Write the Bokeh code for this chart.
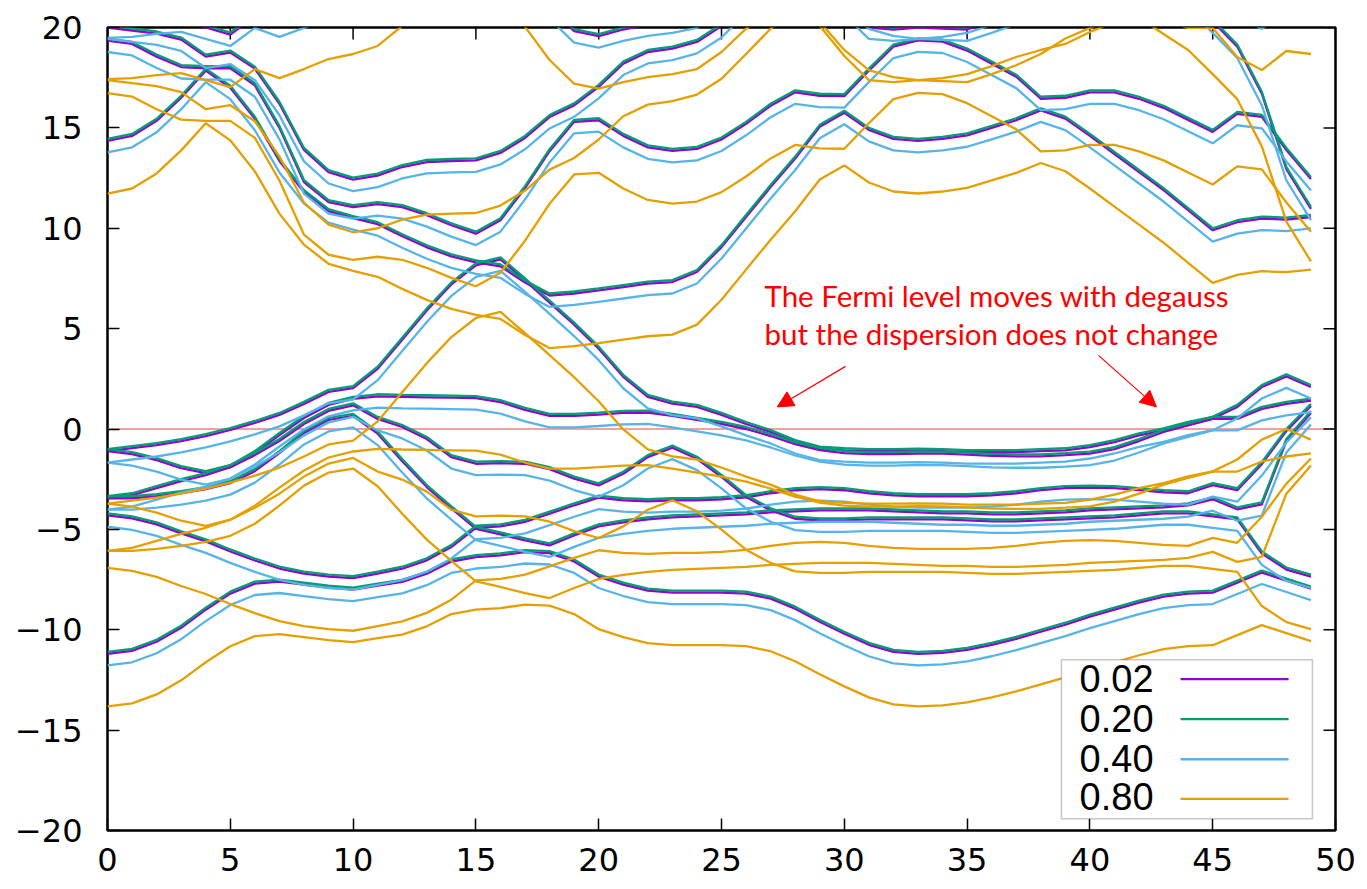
from bokeh.plotting import figure
from bokeh.models import (Range1d, FixedTicker, Label, Arrow,
                          NormalHead, BoxAnnotation, Span)
from bokeh.embed import file_html
from bokeh.resources import INLINE

# ---------------- data (energies in eV, degauss = 0.02 set) ----------------
k_index = list(range(50))

band_L1 = [-11.2, -11.05, -10.6, -9.9, -9.0, -8.2, -7.7, -7.6, -7.75, -7.9,
           -8.0, -7.8, -7.62, -7.21, -6.6, -6.38, -6.3, -6.13, -6.18, -6.6,
           -7.35, -7.75, -8.05, -8.15, -8.15, -8.15, -8.2, -8.45, -8.95, -9.6,
           -10.2, -10.75, -11.1, -11.2, -11.15, -11.0, -10.75, -10.45, -10.1, -9.75,
           -9.35, -9.0, -8.65, -8.35, -8.2, -8.15, -7.65, -7.15, -7.55, -7.95]
band_L2 = [-4.3, -4.45, -4.75, -5.2, -5.6, -6.1, -6.55, -6.95, -7.2, -7.35,
           -7.43, -7.2, -6.96, -6.54, -5.88, -4.92, -4.85, -4.63, -4.22, -3.8,
           -3.42, -3.55, -3.6, -3.55, -3.55, -3.5, -3.4, -3.2, -3.05, -3.0,
           -3.05, -3.2, -3.3, -3.35, -3.35, -3.35, -3.3, -3.2, -3.05, -2.95,
           -2.92, -2.95, -3.05, -3.15, -3.2, -2.8, -3.05, -1.75, -0.1, 1.15]
band_A = [-1.1, -1.25, -1.55, -1.95, -2.2, -1.9, -1.3, -0.6, 0.25, 0.9,
          1.18, 0.5, 0.1, -0.5, -1.4, -1.73, -1.7, -1.73, -2.0, -2.47,
          -2.81, -2.23, -1.4, -0.93, -1.48, -2.39, -3.39, -4.05, -4.47, -4.55,
          -4.55, -4.5, -4.5, -4.5, -4.5, -4.55, -4.6, -4.6, -4.55, -4.5,
          -4.45, -4.4, -4.3, -4.2, -4.2, -4.35, -4.5, -6.2, -7.0, -7.35]
band_C = [-3.45, -3.45, -3.35, -3.2, -3.0, -2.7, -2.1, -1.2, -0.2, 0.45,
          0.65, -0.23, -1.6, -2.89, -3.95, -4.97, -5.25, -5.55, -5.8, -5.3,
          -4.85, -4.65, -4.5, -4.4, -4.35, -4.3, -4.25, -4.15, -4.1, -4.05,
          -4.05, -4.05, -4.1, -4.15, -4.2, -4.2, -4.25, -4.25, -4.2, -4.15,
          -4.05, -4.0, -3.95, -3.9, -3.8, -3.5, -4.0, -3.75, -0.6, 0.8]
band_F = [-3.45, -3.3, -2.95, -2.6, -2.3, -1.9, -1.2, -0.3, 0.55, 1.2,
          1.5, 1.63, 1.6, 1.58, 1.56, 1.54, 1.34, 0.95, 0.65, 0.65,
          0.72, 0.8, 0.82, 0.65, 0.45, 0.25, 0.0, -0.35, -0.75, -1.05,
          -1.2, -1.25, -1.25, -1.22, -1.23, -1.28, -1.34, -1.36, -1.36, -1.3,
          -1.23, -1.0, -0.6, -0.15, 0.18, 0.5, 0.5, 1.0, 1.25, 1.41]
band_U = [-1.1, -0.95, -0.8, -0.6, -0.35, -0.05, 0.3, 0.7, 1.25, 1.85,
          2.04, 3.0, 4.45, 5.9, 7.2, 8.15, 8.45, 7.4, 6.3, 5.2,
          4.0, 2.6, 1.6, 1.26, 1.1, 0.7, 0.25, -0.15, -0.65, -0.98,
          -1.06, -1.1, -1.1, -1.08, -1.1, -1.15, -1.15, -1.15, -1.1, -1.06,
          -0.9, -0.65, -0.32, -0.07, 0.26, 0.51, 1.1, 2.09, 2.62, 2.09]
band_R = [14.35, 14.6, 15.35, 16.5, 17.85, 17.0, 15.45, 13.35, 11.8, 10.85,
          10.5, 10.2, 9.6, 9.05, 8.6, 8.3, 8.1, 7.3, 6.65, 6.75,
          6.9, 7.07, 7.24, 7.32, 7.82, 9.06, 10.56, 12.05, 13.47, 15.05,
          15.75, 14.9, 14.45, 14.35, 14.45, 14.63, 15.0, 15.38, 15.87, 15.46,
          14.6, 13.7, 12.8, 11.9, 10.9, 9.9, 10.3, 10.48, 10.43, 10.56]
band_Q = [19.35, 19.18, 18.55, 18.03, 17.97, 17.97, 17.12, 15.0, 12.3, 11.3,
          11.05, 11.2, 11.05, 10.65, 10.15, 9.73, 10.4, 12.0, 13.84, 15.3,
          15.38, 14.6, 14.03, 13.85, 13.95, 14.42, 15.2, 16.1, 16.77, 16.6,
          16.58, 17.85, 19.05, 19.36, 19.3, 18.85, 18.2, 17.55, 16.45, 16.5,
          16.77, 16.77, 16.45, 16.0, 15.4, 14.8, 15.7, 15.55, 13.9, 12.45]
band_P = [20.0, 19.85, 19.7, 19.4, 18.55, 18.75, 17.95, 16.2, 13.9, 12.8,
          12.42, 12.62, 13.05, 13.3, 13.35, 13.38, 13.75, 14.5, 15.54, 16.12,
          17.04, 18.2, 18.78, 18.95, 19.28, 20.07, 21.3, 22.56, 23.5, 22.9,
          21.5, 20.5, 20.15, 20.0, 20.1, 20.3, 20.7, 21.15, 21.5, 21.8,
          22.4, 22.9, 23.1, 22.3, 21.5, 20.3, 19.05, 16.7, 12.95, 10.97]
band_T = [20.05, 20.1, 20.25, 20.35, 20.0, 19.65, 20.55, 20.1, 20.55, 21.05,
          21.3, 21.7, 22.7, 23.4, 23.8, 24.0, 23.6, 22.65, 21.0, 19.82,
          19.57, 19.9, 20.15, 20.3, 20.55, 21.4, 22.56, 23.4, 23.6, 22.7,
          21.2, 20.0, 19.9, 20.0, 19.95, 19.9, 20.3, 20.74, 21.3, 22.07,
          22.6, 23.0, 23.3, 23.0, 22.6, 22.6, 21.15, 20.5, 21.45, 21.3]

bands = [band_L1, band_L2, band_A, band_C, band_F, band_U,
         band_R, band_Q, band_P, band_T]

# degauss values and the rigid shift of the bands (Fermi level moves)
degauss_labels = ["0.02", "0.20", "0.40", "0.80"]
fermi_shift = [0.0, 0.10, -0.57, -2.62]
series_colors = ["#9400D3", "#009E73", "#56B4E9", "#E69F00"]

x_ticks = [0, 5, 10, 15, 20, 25, 30, 35, 40, 45, 50]
y_ticks = [-20, -15, -10, -5, 0, 5, 10, 15, 20]
y_tick_labels = {v: (str(v) if v >= 0 else "\u2212" + str(-v)) for v in y_ticks}

note_lines = ["The Fermi level moves with degauss",
              "but the dispersion does not change"]

# ---------------- figure ----------------
X0, X1, Y0, Y1 = 0, 50, -20, 20
p = figure(width=1360, height=880, output_backend="svg", toolbar_location=None,
           x_range=Range1d(X0, X1), y_range=Range1d(Y0, Y1),
           min_border_left=107, min_border_right=25,
           min_border_top=27, min_border_bottom=50)
p.grid.visible = False
p.outline_line_color = "black"
p.outline_line_width = 2.5
p.background_fill_color = "white"

TICK_FONT = "DejaVu Sans"
for ax in (p.xaxis[0], p.yaxis[0]):
    ax.axis_line_color = None
    ax.major_tick_in = 12
    ax.major_tick_out = 0
    ax.minor_tick_in = 0
    ax.minor_tick_out = 0
    ax.major_tick_line_color = "black"
    ax.major_tick_line_width = 1.5
    ax.major_label_text_font = TICK_FONT
    ax.major_label_text_font_size = "32px"
    ax.major_label_text_color = "black"
p.xaxis.ticker = FixedTicker(ticks=x_ticks)
p.yaxis.ticker = FixedTicker(ticks=y_ticks)
p.yaxis.major_label_overrides = y_tick_labels
p.xaxis.major_label_standoff = 17
p.yaxis.major_label_standoff = 25

# mirrored tick marks on the top and right borders (12 px long, inward)
tick_dx = 12 * (X1 - X0) / 1228.0
tick_dy = 12 * (Y1 - Y0) / 803.0
p.segment(x0=x_ticks, y0=[Y1] * len(x_ticks), x1=x_ticks,
          y1=[Y1 - tick_dy] * len(x_ticks), line_color="black", line_width=1.5)
p.segment(x0=[X1] * len(y_ticks), y0=y_ticks, x1=[X1 - tick_dx] * len(y_ticks),
          y1=y_ticks, line_color="black", line_width=1.5)

# Fermi level
p.add_layout(Span(location=0, dimension="width", line_color="#F08080",
                  line_width=1.5, level="underlay"))

# bands
for lab, shift, col in zip(degauss_labels, fermi_shift, series_colors):
    xs = [k_index for _ in bands]
    ys = [[e + shift for e in b] for b in bands]
    p.multi_line(xs, ys, line_color=col, line_width=2.3)

# annotation text and arrows
note_font = "Lato"
for txt, ty in zip(note_lines, [6.66, 4.77]):
    p.add_layout(Label(x=26.75, y=ty, text=txt, text_color="red",
                       text_font=note_font, text_font_size="29.5px",
                       text_baseline="alphabetic", text_align="left"))
for (xa, ya, xb, yb) in [(30.05, 3.12, 27.27, 1.10), (40.35, 3.67, 42.71, 1.10)]:
    p.add_layout(Arrow(end=NormalHead(size=16, fill_color="red", line_color="red"),
                       x_start=xa, y_start=ya, x_end=xb, y_end=yb,
                       line_color="red", line_width=1.2))

# legend (gnuplot style: label, then sample line)
p.add_layout(BoxAnnotation(left=38.84, right=49.06, bottom=-19.41, top=-11.49,
                           fill_color="white", fill_alpha=1.0,
                           line_color="#444444", line_width=1.5))
leg_text_y = [-12.45, -14.43, -16.42, -18.33]
leg_line_y = [-12.46, -14.45, -16.45, -18.42]
for lab, col, ty, ly in zip(degauss_labels, series_colors, leg_text_y, leg_line_y):
    p.add_layout(Label(x=39.58, y=ty, text=lab, text_color="black",
                       text_font="Liberation Sans", text_font_size="38px",
                       text_baseline="alphabetic", text_align="left"))
    p.add_layout(Arrow(end=None, x_start=43.69, y_start=ly, x_end=48.09, y_end=ly,
                       line_color=col, line_width=2.3))

open("out.html", "w").write(file_html(p, INLINE))
